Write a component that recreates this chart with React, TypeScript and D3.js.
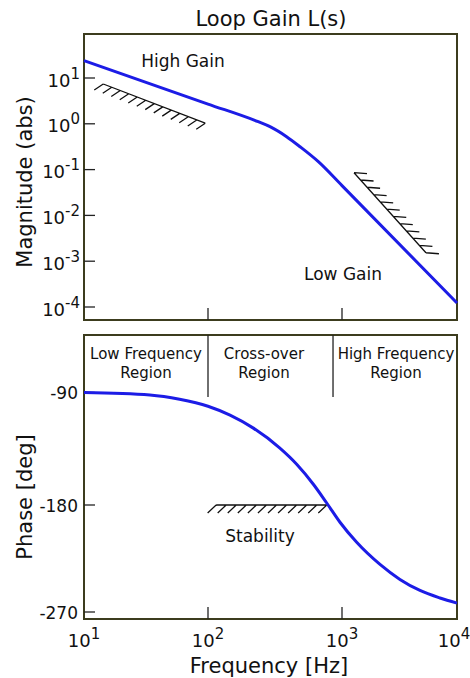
import React from 'react';
import * as d3 from 'd3';

// ---- data ----
const freqTicks = [10, 100, 1000, 10000];
const freqTickExp = ['1', '2', '3', '4'];
const magTicks = [10, 1, 0.1, 0.01, 0.001, 0.0001];
const magTickExp = ['1', '0', '-1', '-2', '-3', '-4'];
const phaseTicks = [-90, -180, -270];

const magFreq = [10, 100, 237, 290, 386, 486, 666, 1000, 10000];
const magValue = [24, 2.7, 1.11, 0.865, 0.523, 0.316, 0.149, 0.0448, 0.000122];

const phaseFreq = [10, 34, 59, 100, 146, 218, 344, 459, 611, 769, 966, 1342, 2140, 3190, 4765, 7110, 10000];
const phaseValue = [-90, -92, -95.4, -101, -108.1, -118.5, -134.5, -147.4, -163.4, -178.4, -194.5, -211.4, -230, -242.6, -251.9, -258.2, -262.5];

const regionDividers = [100, 857];
const regionLines1 = ['Low Frequency', 'Cross-over', 'High Frequency'];
const regionLines2 = ['Region', 'Region', 'Region'];

const lowHatchFreq = [14.3, 95];
const lowHatchMag = [7.4, 1.03];
const highHatchFreq = [1272, 5370];
const highHatchMag = [0.0855, 0.00153];
const stabFreq = [115, 770];
const stabPhase = [-180, -180];

const FONT = 'DejaVu Sans, Verdana, sans-serif';
const BLUE = '#1c1ce6';
const FRAME = '#3c3c1e';

function hatchPath(x1: number, y1: number, x2: number, y2: number, n: number, dx: number, dy: number) {
  let p = `M${x1},${y1}L${x2},${y2}`;
  for (let i = 0; i < n; i++) {
    const t = i / (n - 1);
    const px = x1 + (x2 - x1) * t;
    const py = y1 + (y2 - y1) * t;
    p += `M${px},${py}l${dx},${dy}`;
  }
  return p;
}

export default function App() {
  const left = 84, right = 457;
  const topT = 34, topB = 320;
  const botT = 335, botB = 619;

  const x = d3.scaleLog().domain([10, 100, 1000, 10000]).range([84, 208, 342, 457]);
  const yMag = d3.scaleLog().domain([1e-4, 10]).range([307, 78]);
  const yPh = d3.scaleLinear().domain([-90, -180, -270]).range([392.5, 505, 612]);

  const magLine = d3.line<number>()
    .x((_, i) => x(magFreq[i]))
    .y((_, i) => yMag(magValue[i]))
    .curve(d3.curveMonotoneX)(magFreq);
  const phLine = d3.line<number>()
    .x((_, i) => x(phaseFreq[i]))
    .y((_, i) => yPh(phaseValue[i]))
    .curve(d3.curveMonotoneX)(phaseFreq);

  const h1 = hatchPath(x(lowHatchFreq[0]), yMag(lowHatchMag[0]), x(lowHatchFreq[1]), yMag(lowHatchMag[1]), 13, -9, 6);
  const h2 = hatchPath(x(highHatchFreq[0]), yMag(highHatchMag[0]), x(highHatchFreq[1]), yMag(highHatchMag[1]), 12, 13, 1);
  const h3 = hatchPath(x(stabFreq[0]), yPh(stabPhase[0]), x(stabFreq[1]), yPh(stabPhase[1]), 12, -8.5, 8);

  const regionX = [146, 264, 396];

  return (
    <svg width={470} height={678} style={{ position: 'absolute', left: 0, top: 0 }} fontFamily={FONT}>
      <rect x={0} y={0} width={470} height={678} fill="#fff" />
      {/* title */}
      <text x={271} y={26} fontSize={21} textAnchor="middle" fill="#111">Loop Gain L(s)</text>

      {/* top panel */}
      <rect x={left} y={topT} width={right - left} height={topB - topT} fill="none" stroke={FRAME} strokeWidth={2} />
      {magTicks.map((t, i) => (
        <g key={'mt' + i}>
          <line x1={left} x2={left + 11} y1={yMag(t)} y2={yMag(t)} stroke="#222" strokeWidth={1.3} />
          <text x={80} y={yMag(t) + 8.5} fontSize={18} textAnchor="end" fill="#111">
            10<tspan dy={-8} fontSize={15}>{magTickExp[i]}</tspan>
          </text>
        </g>
      ))}
      {freqTicks.slice(1, 3).map((f, i) => (
        <line key={'xt1' + i} x1={x(f)} x2={x(f)} y1={topB} y2={topB - 12} stroke="#222" strokeWidth={1.3} />
      ))}
      <path d={h1} fill="none" stroke="#111" strokeWidth={1.3} />
      <path d={h2} fill="none" stroke="#111" strokeWidth={1.3} />
      <path d={magLine || ''} fill="none" stroke={BLUE} strokeWidth={3} />
      <text x={183} y={67} fontSize={17} textAnchor="middle" fill="#111">High Gain</text>
      <text x={343} y={280} fontSize={17} textAnchor="middle" fill="#111">Low Gain</text>
      <text transform="translate(32,182) rotate(-90)" fontSize={21} textAnchor="middle" fill="#111">Magnitude (abs)</text>

      {/* bottom panel */}
      <rect x={left} y={botT} width={right - left} height={botB - botT} fill="none" stroke={FRAME} strokeWidth={2} />
      {regionDividers.map((f, i) => (
        <line key={'rd' + i} x1={x(f)} x2={x(f)} y1={botT} y2={botT + 62} stroke="#222" strokeWidth={1.3} />
      ))}
      {regionX.map((cx, i) => (
        <g key={'rl' + i}>
          <text x={cx} y={359} fontSize={15} textAnchor="middle" fill="#111">{regionLines1[i]}</text>
          <text x={cx} y={378} fontSize={15} textAnchor="middle" fill="#111">{regionLines2[i]}</text>
        </g>
      ))}
      {phaseTicks.map((t, i) => (
        <g key={'pt' + i}>
          <line x1={left} x2={left + 11} y1={yPh(t)} y2={yPh(t)} stroke="#222" strokeWidth={1.3} />
          <text x={78} y={yPh(t) + 6.5} fontSize={17} textAnchor="end" fill="#111">{t}</text>
        </g>
      ))}
      {freqTicks.slice(1, 3).map((f, i) => (
        <line key={'xt2' + i} x1={x(f)} x2={x(f)} y1={botB} y2={botB - 12} stroke="#222" strokeWidth={1.3} />
      ))}
      {freqTicks.map((f, i) => (
        <text key={'xl' + i} x={Math.min(x(f), 454)} y={647} fontSize={18} textAnchor="middle" fill="#111">
          10<tspan dy={-8} fontSize={15}>{freqTickExp[i]}</tspan>
        </text>
      ))}
      <path d={h3} fill="none" stroke="#111" strokeWidth={1.3} />
      <path d={phLine || ''} fill="none" stroke={BLUE} strokeWidth={3} />
      <text x={260} y={542} fontSize={17} textAnchor="middle" fill="#111">Stability</text>
      <text transform="translate(32,497) rotate(-90)" fontSize={21} textAnchor="middle" fill="#111">Phase [deg]</text>
      <text x={269} y={673} fontSize={21} textAnchor="middle" fill="#111">Frequency [Hz]</text>
    </svg>
  );
}
